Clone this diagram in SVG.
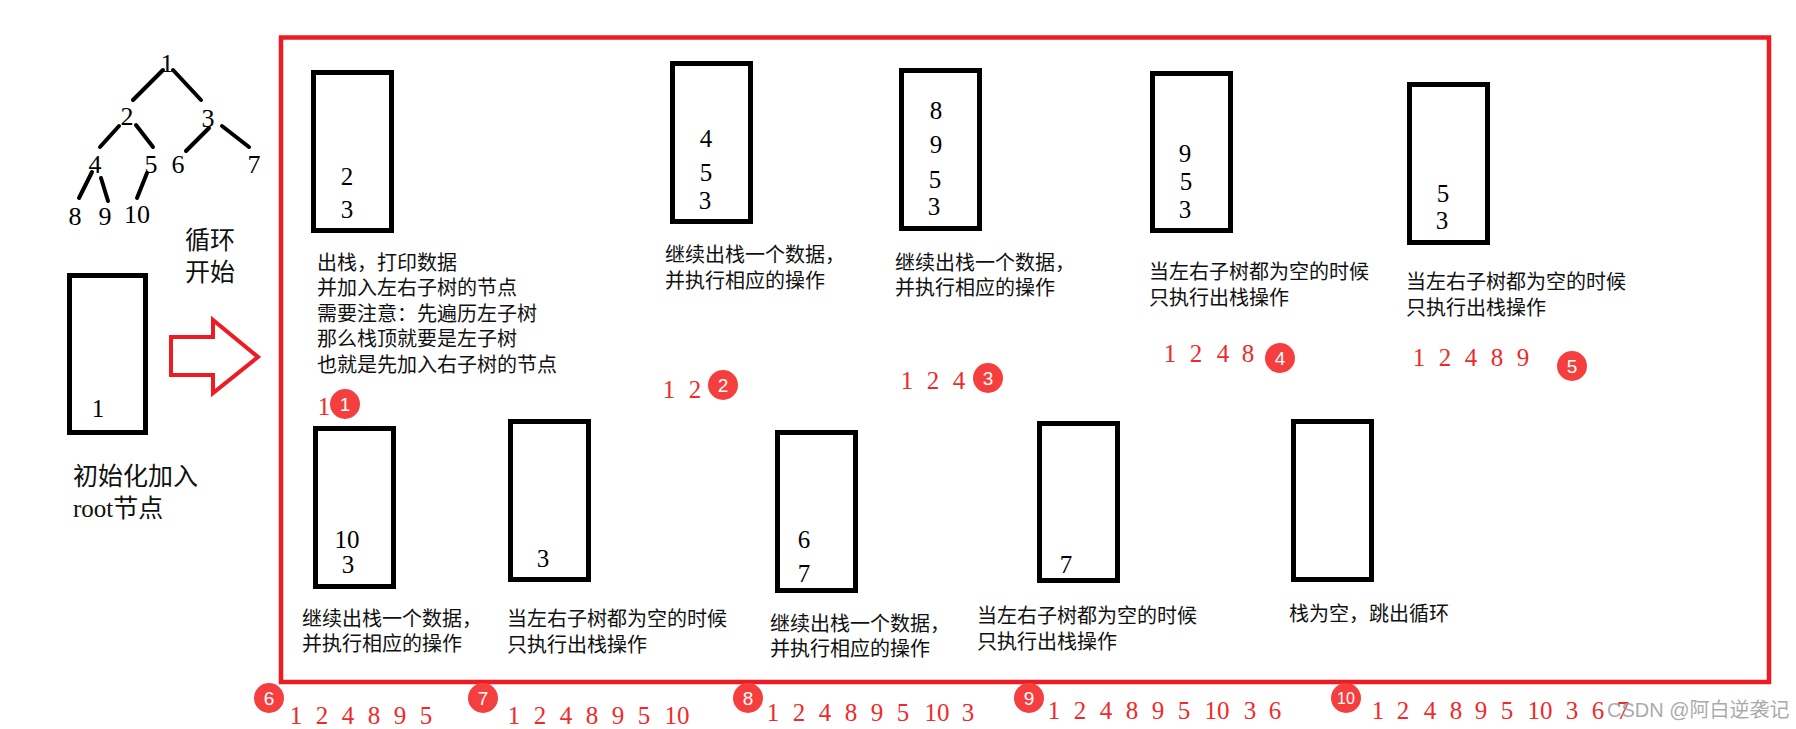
<svg xmlns="http://www.w3.org/2000/svg" width="1796" height="729" viewBox="0 0 1796 729">
<style>
.bg{fill:#fff}
.stack{fill:none;stroke:#000;stroke-width:5}
.d{font-family:"Liberation Serif",serif;font-size:25px;fill:#000;text-anchor:middle}
.td{font-family:"Liberation Serif",serif;font-size:26px;fill:#000;text-anchor:middle}
.cap{font-family:"Noto Sans CJK SC",sans-serif;font-size:20px;fill:#111}
.big{font-family:"Liberation Serif","Noto Sans CJK SC",sans-serif;font-size:25px;fill:#111}
.rd{font-family:"Liberation Serif",serif;font-size:25px;fill:#f02a2a;text-anchor:middle}
.badge circle{fill:#f53e3e}
.badge text{font-family:"Liberation Sans",sans-serif;font-size:19px;fill:#fff;text-anchor:middle}
.edge{stroke:#000;stroke-width:4;stroke-linecap:round;fill:none}
.frame{fill:none;stroke:#ed1c24;stroke-width:4.5}
.arrow{fill:none;stroke:#ed1c24;stroke-width:4;stroke-linejoin:miter}
.wm{font-family:"Liberation Sans","Noto Sans CJK SC",sans-serif;font-size:20px;fill:#9a9a9a;fill-opacity:0.85}
</style>
<rect class="bg" x="0" y="0" width="1796" height="729"/>

<g id="frame"><rect class="frame" x="281" y="37.5" width="1488" height="644.5"/></g>

<g id="connectors">
<line class="edge" x1="163" y1="70" x2="133" y2="100"/>
<line class="edge" x1="173" y1="70" x2="201" y2="100"/>
<line class="edge" x1="119" y1="126" x2="100" y2="147"/>
<line class="edge" x1="136" y1="125" x2="153" y2="147"/>
<line class="edge" x1="209" y1="128" x2="186" y2="151"/>
<line class="edge" x1="222" y1="126" x2="249" y2="147"/>
<line class="edge" x1="92" y1="172" x2="79" y2="198"/>
<line class="edge" x1="101" y1="178" x2="108" y2="201"/>
<line class="edge" x1="147" y1="173" x2="137" y2="198"/>
<polygon class="arrow" points="171,337 213,337 213,320 258,357 213,393 213,375 171,375"/>
</g>

<g id="tree">
<text class="td" x="167" y="72">1</text>
<text class="td" x="127" y="125">2</text>
<text class="td" x="208" y="127">3</text>
<text class="td" x="95" y="173">4</text>
<text class="td" x="151" y="173">5</text>
<text class="td" x="178" y="173">6</text>
<text class="td" x="254" y="173">7</text>
<text class="td" x="75" y="225">8</text>
<text class="td" x="105" y="225">9</text>
<text class="td" x="137" y="223">10</text>
</g>

<g id="loop-label">
<text class="big" x="185" y="249">循环</text>
<text class="big" x="185" y="281">开始</text>
</g>

<g id="init">
<rect class="stack" x="69.5" y="275.5" width="76" height="157"/>
<text class="d" x="98" y="417">1</text>
<text class="big" x="73" y="485">初始化加入</text>
<text class="big" x="73" y="517">root节点</text>
</g>

<g id="step1">
<rect class="stack" x="313.5" y="72.5" width="78" height="158"/>
<text class="d" x="347" y="185">2</text>
<text class="d" x="347" y="218">3</text>
<text class="cap" x="317" y="270">出栈，打印数据</text>
<text class="cap" x="317" y="295">并加入左右子树的节点</text>
<text class="cap" x="317" y="321">需要注意：先遍历左子树</text>
<text class="cap" x="317" y="346">那么栈顶就要是左子树</text>
<text class="cap" x="317" y="372">也就是先加入右子树的节点</text>
<text class="rd" x="324" y="415">1</text>
<g class="badge"><circle cx="345" cy="404" r="15"/><text x="345" y="411">1</text></g>
</g>

<g id="step2">
<rect class="stack" x="672.5" y="63.5" width="78" height="158"/>
<text class="d" x="706" y="147">4</text>
<text class="d" x="706" y="181">5</text>
<text class="d" x="705" y="209">3</text>
<text class="cap" x="665" y="262">继续出栈一个数据，</text>
<text class="cap" x="665" y="288">并执行相应的操作</text>
<text class="rd" y="398"><tspan x="669">1</tspan><tspan x="695">2</tspan></text>
<g class="badge"><circle cx="723" cy="385" r="15"/><text x="723" y="392">2</text></g>
</g>

<g id="step3">
<rect class="stack" x="901.5" y="70.5" width="78" height="158"/>
<text class="d" x="936" y="119">8</text>
<text class="d" x="936" y="153">9</text>
<text class="d" x="935" y="188">5</text>
<text class="d" x="934" y="215">3</text>
<text class="cap" x="895" y="270">继续出栈一个数据，</text>
<text class="cap" x="895" y="295">并执行相应的操作</text>
<text class="rd" y="389"><tspan x="907">1</tspan><tspan x="933">2</tspan><tspan x="959">4</tspan></text>
<g class="badge"><circle cx="988" cy="378" r="15"/><text x="988" y="385">3</text></g>
</g>

<g id="step4">
<rect class="stack" x="1152.5" y="73.5" width="78" height="157"/>
<text class="d" x="1185" y="162">9</text>
<text class="d" x="1186" y="190">5</text>
<text class="d" x="1185" y="218">3</text>
<text class="cap" x="1149" y="279">当左右子树都为空的时候</text>
<text class="cap" x="1149" y="305">只执行出栈操作</text>
<text class="rd" y="362"><tspan x="1170">1</tspan><tspan x="1196">2</tspan><tspan x="1223">4</tspan><tspan x="1248">8</tspan></text>
<g class="badge"><circle cx="1280" cy="358" r="15"/><text x="1280" y="365">4</text></g>
</g>

<g id="step5">
<rect class="stack" x="1409.5" y="84.5" width="78" height="158"/>
<text class="d" x="1443" y="202">5</text>
<text class="d" x="1442" y="229">3</text>
<text class="cap" x="1406" y="289">当左右子树都为空的时候</text>
<text class="cap" x="1406" y="315">只执行出栈操作</text>
<text class="rd" y="366"><tspan x="1419">1</tspan><tspan x="1445">2</tspan><tspan x="1471">4</tspan><tspan x="1497">8</tspan><tspan x="1523">9</tspan></text>
<g class="badge"><circle cx="1572" cy="366" r="15"/><text x="1572" y="373">5</text></g>
</g>

<g id="step6">
<rect class="stack" x="315.5" y="428.5" width="78" height="158"/>
<text class="d" x="347" y="548">10</text>
<text class="d" x="348" y="573">3</text>
<text class="cap" x="302" y="626">继续出栈一个数据，</text>
<text class="cap" x="302" y="651">并执行相应的操作</text>
<g class="badge"><circle cx="269" cy="698" r="15"/><text x="269" y="705">6</text></g>
<text class="rd" y="724"><tspan x="296">1</tspan><tspan x="322">2</tspan><tspan x="348">4</tspan><tspan x="374">8</tspan><tspan x="400">9</tspan><tspan x="426">5</tspan></text>
</g>

<g id="step7">
<rect class="stack" x="510.5" y="421.5" width="78" height="158"/>
<text class="d" x="543" y="567">3</text>
<text class="cap" x="507" y="626">当左右子树都为空的时候</text>
<text class="cap" x="507" y="652">只执行出栈操作</text>
<g class="badge"><circle cx="483" cy="698" r="15"/><text x="483" y="705">7</text></g>
<text class="rd" y="724"><tspan x="514">1</tspan><tspan x="540">2</tspan><tspan x="566">4</tspan><tspan x="592">8</tspan><tspan x="618">9</tspan><tspan x="644">5</tspan><tspan x="677">10</tspan></text>
</g>

<g id="step8">
<rect class="stack" x="777.5" y="432.5" width="78" height="158"/>
<text class="d" x="804" y="548">6</text>
<text class="d" x="804" y="582">7</text>
<text class="cap" x="770" y="631">继续出栈一个数据，</text>
<text class="cap" x="770" y="656">并执行相应的操作</text>
<g class="badge"><circle cx="748" cy="698" r="15"/><text x="748" y="705">8</text></g>
<text class="rd" y="721"><tspan x="773">1</tspan><tspan x="799">2</tspan><tspan x="825">4</tspan><tspan x="851">8</tspan><tspan x="877">9</tspan><tspan x="903">5</tspan><tspan x="937">10</tspan><tspan x="968">3</tspan></text>
</g>

<g id="step9">
<rect class="stack" x="1039.5" y="423.5" width="78" height="157"/>
<text class="d" x="1066" y="573">7</text>
<text class="cap" x="977" y="623">当左右子树都为空的时候</text>
<text class="cap" x="977" y="649">只执行出栈操作</text>
<g class="badge"><circle cx="1029" cy="698" r="15"/><text x="1029" y="705">9</text></g>
<text class="rd" y="719"><tspan x="1054">1</tspan><tspan x="1080">2</tspan><tspan x="1106">4</tspan><tspan x="1132">8</tspan><tspan x="1158">9</tspan><tspan x="1184">5</tspan><tspan x="1217">10</tspan><tspan x="1250">3</tspan><tspan x="1275">6</tspan></text>
</g>

<g id="step10">
<rect class="stack" x="1293.5" y="421.5" width="78" height="158"/>
<text class="cap" x="1289" y="621">栈为空，跳出循环</text>
<g class="badge"><circle cx="1346" cy="698" r="15"/><text x="1346" y="704" style="font-size:16px">10</text></g>
<text class="rd" y="719"><tspan x="1378">1</tspan><tspan x="1403">2</tspan><tspan x="1430">4</tspan><tspan x="1456">8</tspan><tspan x="1481">9</tspan><tspan x="1507">5</tspan><tspan x="1540">10</tspan><tspan x="1572">3</tspan><tspan x="1598">6</tspan><tspan x="1623">7</tspan></text>
</g>

<g id="watermark"><text class="wm" x="1607" y="717">CSDN @阿白逆袭记</text></g>
</svg>
